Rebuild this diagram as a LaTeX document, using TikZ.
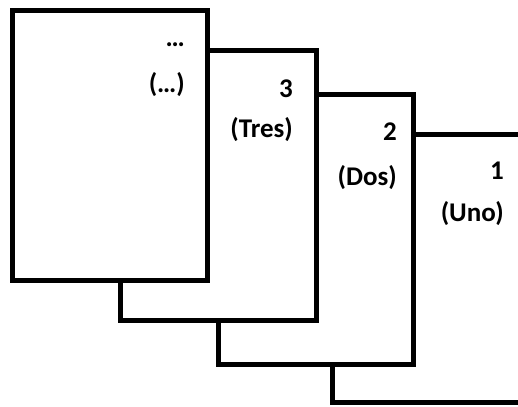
\documentclass[tikz,border=0pt]{standalone}
\usepackage{fontspec}
\setmainfont{Carlito}
\begin{document}
\begin{tikzpicture}[x=1pt,y=1pt,
  sheet/.style={draw=black,fill=white,line width=5pt,line join=miter},
  lbl/.style={anchor=base east,inner sep=0pt,font=\bfseries\fontsize{27}{27}\selectfont}]
\useasboundingbox (0,0) rectangle (518,406);
% back to front
\draw[sheet] (332.5,406-135) rectangle (528,406-402.5);
\coordinate (s1) at (332.5,406-135);
\draw[sheet] (218,406-94.5) rectangle (413.5,406-364.5);
\coordinate (s2) at (218,406-94.5);
\draw[sheet] (120,406-51) rectangle (316,406-321);
\coordinate (s3) at (120,406-51);
\draw[sheet] (12.5,406-11) rectangle (207,406-281);
\coordinate (s0) at (12.5,406-11);
% labels
\node[lbl] (n1a) at (504,406-180) {1};
\node[lbl] (n1b) at (504,406-222) {(Uno)};
\node[lbl] (n2a) at (397,406-141) {2};
\node[lbl] (n2b) at (397,406-186) {(Dos)};
\node[lbl] (n3a) at (293,406-98) {3};
\node[lbl] (n3b) at (293,406-138) {(Tres)};
\node[lbl] (n0a) at (185,406-47) {…};
\node[lbl] (n0b) at (185,406-93) {(…)};
\end{tikzpicture}
\end{document}
